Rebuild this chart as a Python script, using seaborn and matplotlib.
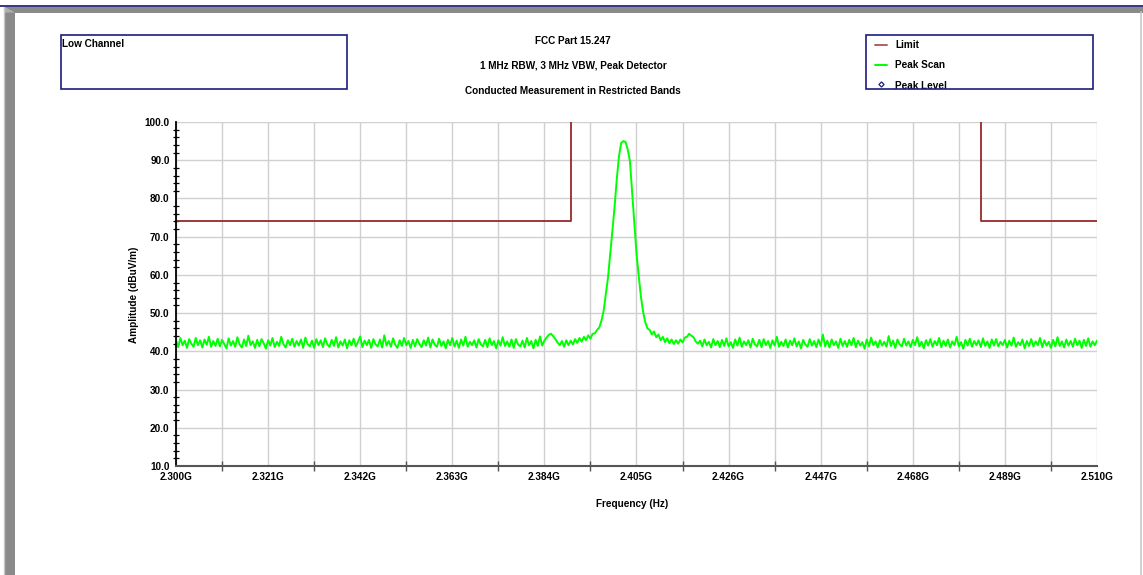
import numpy as np
import pandas as pd
import matplotlib
matplotlib.use("Agg")
import matplotlib.pyplot as plt
from matplotlib import font_manager
from matplotlib.patches import Rectangle, Polygon
from matplotlib.lines import Line2D
from matplotlib.ticker import MultipleLocator, FuncFormatter, FixedLocator
import seaborn as sns

# ---------------- data ----------------
start_ghz = 2.300
step_ghz = 0.0005

floor_low = [
    42.9, 41.1, 43.5, 41.6, 42.8, 40.9, 43.2, 42.0, 41.2, 43.5, 41.6, 42.9, 41.0, 43.1,
    41.7, 43.8, 41.2, 42.7, 41.4, 43.3, 41.3, 43.0, 41.9, 40.8, 43.4, 41.5, 42.7, 41.2,
    43.7, 41.8, 41.0, 43.1, 41.4, 44.1, 41.6, 42.6, 40.9, 43.0, 41.3, 43.2, 42.1, 40.7,
    42.9, 41.5, 43.5, 41.1, 42.5, 41.4, 43.8, 41.8, 41.0, 42.9, 41.6, 43.3, 41.2, 42.7,
    41.5, 43.1, 40.9, 43.6, 41.9, 41.3, 42.8, 40.9, 43.2, 41.6, 42.9, 41.1, 43.4, 41.8,
    41.2, 43.0, 41.4, 43.7, 41.0, 42.6, 41.5, 43.1, 40.8, 42.9, 41.6, 43.3, 41.3, 42.5,
    43.9, 41.1, 42.8, 41.6, 43.0, 40.9, 43.2, 41.8, 41.3, 43.1, 41.0, 44.2, 41.5, 42.7,
    41.2, 43.4, 41.7, 40.9, 42.9, 41.4, 43.5, 41.6, 42.7, 40.9, 43.0, 41.3, 43.2, 41.9,
    41.1, 42.9, 41.5, 43.6, 41.0, 43.1, 41.7, 41.2, 43.3, 41.4, 42.6, 40.8, 43.0, 41.6,
    43.5, 41.3, 42.8, 40.9, 43.1, 41.5, 43.8, 41.2, 42.5, 41.6, 42.9, 41.0, 43.2, 41.8,
    41.3, 43.0, 41.1, 43.4, 41.6, 42.7, 40.8, 42.9, 41.5, 43.7, 41.4, 42.6, 41.2, 43.1,
    40.9, 43.2, 41.8, 41.3, 42.8, 41.0, 43.5, 41.6, 42.7, 40.8, 43.0, 41.4, 43.9, 41.5,
]
spur_low = [42.8, 43.6, 44.3, 44.6, 44.0, 43.2, 42.3]
gap_low = [41.6, 42.7, 41.2, 42.9, 41.6]
carrier = [
    42.8, 41.8, 43.2, 42.2, 43.5, 42.5, 43.8, 42.9, 44.2, 43.3,
    44.6, 44.7, 45.6, 46.2, 48.0, 50.5, 55.0, 59.3, 65.3, 71.5,
    77.8, 85.0, 91.0, 94.5, 95.0, 94.8, 92.8, 89.8, 81.7, 73.8,
    65.6, 59.8, 54.4, 50.4, 47.6, 46.0, 45.6, 44.4, 45.2, 43.7,
    44.4, 42.9, 43.8, 42.4, 43.4, 42.1, 43.1, 41.9, 42.9, 42.0,
    43.1, 42.3, 43.6, 43.8, 44.6, 44.1, 43.7, 42.6, 42.0,
]
floor_high = [
    42.8, 41.3, 43.1, 41.6, 42.5, 41.0, 43.2, 41.6, 42.7, 41.1, 43.0, 41.4, 43.4, 41.3,
    42.4, 40.9, 43.1, 41.5, 43.6, 41.2, 42.6, 41.6, 42.9, 41.0, 43.3, 41.8, 41.3, 43.0,
    41.1, 43.2, 41.6, 42.7, 40.9, 42.9, 41.5, 43.8, 41.2, 42.5, 41.4, 43.1, 41.0, 42.8,
    41.6, 43.4, 41.3, 42.6, 40.8, 43.0, 41.8, 41.2, 43.2, 41.5, 42.7, 41.1, 43.1, 41.4,
    44.4, 41.3, 42.8, 41.0, 43.1, 41.6, 42.6, 40.9, 43.3, 41.4, 42.7, 41.2, 43.0, 41.6,
    43.5, 41.1, 42.8, 41.5, 42.4, 40.7, 43.1, 41.3, 43.6, 41.6, 42.6, 41.0, 42.9, 41.5,
    42.5, 41.2, 44.0, 41.4, 42.8, 40.9, 43.1, 41.8, 41.3, 43.3, 41.5, 42.6, 41.1, 43.0,
    41.6, 43.7, 41.3, 42.5, 40.8, 42.9, 41.5, 43.2, 41.2, 42.7, 41.6, 43.5, 41.1, 42.8,
    41.4, 43.1, 41.0, 42.6, 41.6, 43.8, 41.3, 42.4, 40.7, 43.0, 41.5, 43.3, 41.2, 42.7,
    41.6, 42.9, 41.1, 43.4, 41.4, 42.6, 40.9, 43.1, 41.5, 43.2, 41.3, 42.5, 41.6, 43.0,
    41.0, 42.8, 41.5, 43.6, 41.2, 42.4, 41.6, 43.1, 40.8, 42.7, 41.4, 43.2, 41.3, 42.6,
    41.6, 43.5, 41.1, 42.9, 41.5, 42.5, 40.9, 43.0, 41.3, 43.7, 41.4, 42.6, 41.0, 43.1,
    41.5, 42.7, 41.2, 43.3, 41.6, 42.8, 40.9, 43.0, 41.4, 43.4, 41.2, 42.6, 41.6, 42.8,
]

limit_left_freq = [2.300, 2.390, 2.390]
limit_left_level = [74.0, 74.0, 100.0]
limit_right_freq = [2.4835, 2.4835, 2.510]
limit_right_level = [100.0, 74.0, 74.0]

x_ticks = [2.300, 2.321, 2.342, 2.363, 2.384, 2.405, 2.426, 2.447, 2.468, 2.489, 2.510]
x_minor = [2.3105, 2.3315, 2.3525, 2.3735, 2.3945, 2.4155, 2.4365, 2.4575, 2.4785, 2.4995]
title_lines = ["FCC Part 15.247",
               "1 MHz RBW, 3 MHz VBW, Peak Detector",
               "Conducted Measurement in Restricted Bands"]
legend_labels = ["Limit", "Peak Scan", "Peak Level"]
note_text = "Low Channel"

# ---------------- build frames ----------------
amp = floor_low + spur_low + gap_low + carrier + floor_high
freq = start_ghz + step_ghz * np.arange(len(amp))
scan = pd.DataFrame({"freq": freq, "amp": amp})
lim_l = pd.DataFrame({"freq": limit_left_freq, "amp": limit_left_level})
lim_r = pd.DataFrame({"freq": limit_right_freq, "amp": limit_right_level})

# ---------------- style ----------------
sns.set_theme(style="white")
names = {f.name for f in font_manager.fontManager.ttflist}
if "Liberation Sans Narrow" in names:
    FONT = ["Liberation Sans Narrow", "DejaVu Sans"]
    FS = 8.0
else:
    FONT = ["Liberation Sans", "DejaVu Sans"]
    FS = 7.2
plt.rcParams["font.family"] = FONT
plt.rcParams["font.weight"] = "bold"

W, H = 1143, 575
fig = plt.figure(figsize=(W / 100, H / 100), dpi=100)
fig.patch.set_facecolor("white")


def fx(px):
    return px / W


def fy(py):
    return 1 - py / H


ax = fig.add_axes([fx(176), fy(466), fx(1097) - fx(176), fy(122) - fy(466)])
ax.set_facecolor("white")

LIMIT_C = "#962a2a"
GREEN = "#00ff00"
NAVY = "#1c1c80"

sns.lineplot(data=scan, x="freq", y="amp", ax=ax, color=GREEN, lw=1.4,
             sort=False, estimator=None, zorder=3)
sns.lineplot(data=lim_l, x="freq", y="amp", ax=ax, color=LIMIT_C, lw=1.3,
             sort=False, estimator=None, zorder=4)
sns.lineplot(data=lim_r, x="freq", y="amp", ax=ax, color=LIMIT_C, lw=1.3,
             sort=False, estimator=None, zorder=4)

ax.set_xlim(2.300, 2.510)
ax.set_ylim(10, 100)
ax.xaxis.set_major_locator(FixedLocator(x_ticks))
ax.xaxis.set_minor_locator(FixedLocator(x_minor))
ax.xaxis.set_major_formatter(FuncFormatter(lambda v, p: f"{v:.3f}G"))
ax.yaxis.set_major_locator(MultipleLocator(10))
ax.yaxis.set_minor_locator(MultipleLocator(2))
ax.yaxis.set_major_formatter(FuncFormatter(lambda v, p: f"{v:.1f}"))

ax.grid(True, which="major", axis="both", color="#d0d0d0", lw=1.0, zorder=0)
ax.grid(True, which="minor", axis="x", color="#d0d0d0", lw=1.0, zorder=0)
ax.set_axisbelow(True)

for s in ["top", "right"]:
    ax.spines[s].set_visible(False)
ax.spines["left"].set_color("black")
ax.spines["left"].set_linewidth(1.3)
ax.spines["bottom"].set_color("#555555")
ax.spines["bottom"].set_linewidth(1.5)
ax.spines["left"].set_zorder(5)
ax.spines["bottom"].set_zorder(5)

ax.tick_params(axis="y", which="major", direction="inout", length=7, width=1.0,
               color="black", labelsize=FS, pad=1)
ax.tick_params(axis="y", which="minor", direction="inout", length=5, width=0.9,
               color="black", left=True)
ax.tick_params(axis="x", which="major", direction="inout", length=7, width=1.0,
               color="#555555", labelsize=FS, pad=1)
ax.tick_params(axis="x", which="minor", direction="inout", length=7, width=1.0,
               color="#555555", bottom=True)
for lab in ax.get_xticklabels() + ax.get_yticklabels():
    lab.set_fontweight("bold")
    lab.set_color("black")

ax.set_xlabel("Frequency (Hz)", fontsize=FS, fontweight="bold", color="black")
ax.set_ylabel("Amplitude (dBuV/m)", fontsize=FS, fontweight="bold", color="black")
ax.xaxis.set_label_coords((632 - 176) / 921, (466 - 499) / 344)
ax.yaxis.set_label_coords((139 - 176) / 921, (466 - 295) / 344)

# ---------------- titles ----------------
for txt, py in zip(title_lines, [41, 66, 91]):
    fig.text(fx(573), fy(py), txt, ha="center", va="center", fontsize=FS,
             fontweight="bold", color="black")

# ---------------- note box ----------------
fig.add_artist(Rectangle((fx(61), fy(89)), fx(347) - fx(61), fy(35) - fy(89),
                         transform=fig.transFigure, fill=False, ec=NAVY, lw=1.2))
fig.text(fx(62), fy(44), note_text, ha="left", va="center", fontsize=FS,
         fontweight="bold", color="black")

# ---------------- legend box ----------------
fig.add_artist(Line2D([fx(875), fx(887)], [fy(45), fy(45)], transform=fig.transFigure,
                      color="#b06060", lw=1.4))
fig.add_artist(Line2D([fx(875), fx(887)], [fy(65), fy(65)], transform=fig.transFigure,
                      color=GREEN, lw=1.4))
fig.add_artist(Line2D([fx(880.5)], [fy(83.5)], transform=fig.transFigure,
                      color=NAVY, marker="D", markersize=2.6, mfc="white", mec=NAVY, mew=0.9))
for txt, py in zip(legend_labels, [45, 65, 86]):
    fig.text(fx(895), fy(py), txt, ha="left", va="center", fontsize=FS,
             fontweight="bold", color="black")
fig.add_artist(Rectangle((fx(866), fy(89)), fx(1093) - fx(866), fy(35) - fy(89),
                         transform=fig.transFigure, fill=False, ec=NAVY, lw=1.2, zorder=10))
fig.add_artist(Rectangle((fx(867), fy(95)), fx(1092) - fx(867), fy(90) - fy(95),
                         transform=fig.transFigure, color="white", lw=0, zorder=9))

# ---------------- window frame ----------------
fig.add_artist(Rectangle((0, fy(7)), 1, fy(5) - fy(7), transform=fig.transFigure,
                         color="#3a3a8a", lw=0))
fig.add_artist(Rectangle((fx(5), fy(12.5)), 1 - fx(5), fy(7) - fy(12.5),
                         transform=fig.transFigure, color="#8a8a8a", lw=0))
fig.add_artist(Rectangle((fx(5), 0), fx(15) - fx(5), fy(7) - 0,
                         transform=fig.transFigure, color="#8a8a8a", lw=0))
fig.add_artist(Polygon([[fx(5), fy(7)], [fx(15), fy(12.5)], [fx(5), fy(12.5)]],
                       closed=True, transform=fig.transFigure, color="#b0b0b0", lw=0))
fig.add_artist(Line2D([fx(3.5), fx(3.5)], [0, fy(7)], transform=fig.transFigure,
                      color="#c8c8c8", lw=1))
fig.add_artist(Line2D([fx(1141), fx(1141)], [0, fy(12)], transform=fig.transFigure,
                      color="#c8c8c8", lw=1.2))

fig.savefig("out.png", dpi=100)
